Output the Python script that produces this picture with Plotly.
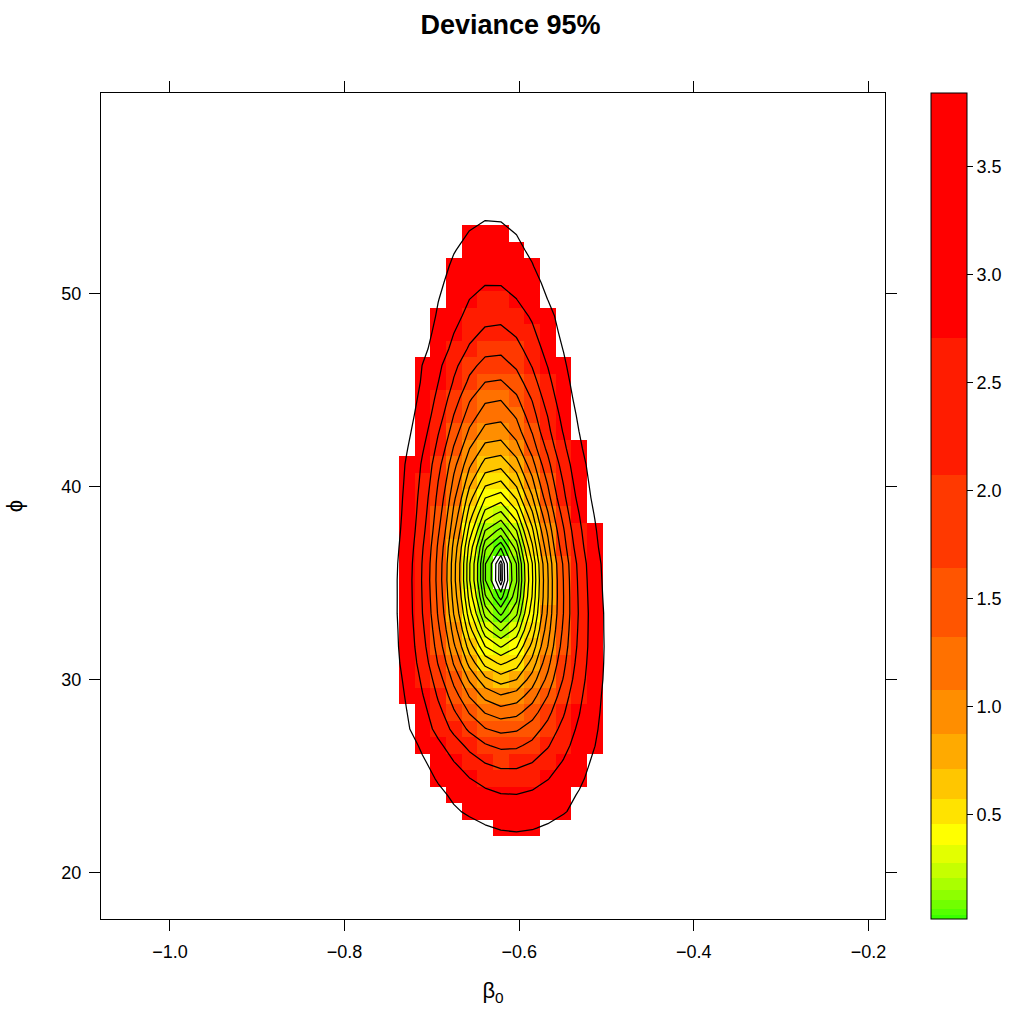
import numpy as np
import plotly.graph_objects as go

# ---- grid axes (cell centres of the deviance grid) ----
beta0_grid = np.linspace(-1.07, -0.19, 50)
phi_grid = np.linspace(18, 60, 50)

# ---- per-row deviance profile ----
# minimum deviance along each phi row
row_min_dev = [6.51, 5.89, 5.31, 4.75, 4.22, 3.727, 3.263, 2.829, 2.427, 2.055,
               1.714, 1.404, 1.125, 0.877, 0.659, 0.473, 0.318, 0.193, 0.099, 0.036,
               0.001, 0.002, 0.048, 0.131, 0.234, 0.354, 0.484, 0.624, 0.776, 0.931,
               1.080, 1.241, 1.444, 1.648, 1.864, 2.094, 2.332, 2.576, 2.831, 3.080,
               3.338, 3.608, 3.889, 4.18, 4.48, 4.79, 5.11, 5.43, 5.76, 6.10]
# beta0 where each row reaches its minimum
row_center_beta0 = [-0.605, -0.605, -0.605, -0.605, -0.605,
                    -0.604, -0.606, -0.6087, -0.6108, -0.6127,
                    -0.6145, -0.6175, -0.6178, -0.6185, -0.6190,
                    -0.6200, -0.6205, -0.6210, -0.6215, -0.6220,
                    -0.6225, -0.6227, -0.6235, -0.6238, -0.6246,
                    -0.6257, -0.6263, -0.6270, -0.62755, -0.6278,
                    -0.6275, -0.6276, -0.6275, -0.6284, -0.6275,
                    -0.6275, -0.6275, -0.62975, -0.6305, -0.6320,
                    -0.6325, -0.6320, -0.632, -0.632, -0.632,
                    -0.632, -0.632, -0.632, -0.632, -0.632]
# beta0 distance giving one unit of deviance in each row
row_scale_beta0 = [0.065, 0.065, 0.065, 0.065, 0.065,
                   0.075, 0.0803, 0.0736, 0.0723, 0.0704,
                   0.0696, 0.0692, 0.0671, 0.0656, 0.0646,
                   0.0638, 0.0629, 0.0619, 0.0613, 0.0605,
                   0.0600, 0.0596, 0.0588, 0.0584, 0.0581,
                   0.0579, 0.0579, 0.0580, 0.0572, 0.0565,
                   0.0560, 0.0555, 0.0555, 0.0560, 0.0551,
                   0.0552, 0.0558, 0.0554, 0.0562, 0.0562,
                   0.0565, 0.0576, 0.058, 0.058, 0.058,
                   0.058, 0.058, 0.058, 0.058, 0.058]

# ---- colour key breaks (chi-square(1) quantiles, 0.10 ... 0.95) ----
color_breaks = [0.01579, 0.03577, 0.06418, 0.10153, 0.14847, 0.20590, 0.27500, 0.35732,
                0.45494, 0.57065, 0.70833, 0.87346, 1.07419, 1.32330, 1.64237, 2.07225,
                2.70554, 3.84146]
band_colors = ["#39FF00", "#55FF00", "#71FF00", "#8EFF00", "#AAFF00", "#C6FF00", "#E3FF00",
               "#FFFF00", "#FFE300", "#FFC600", "#FFAA00", "#FF8E00", "#FF7100", "#FF5500",
               "#FF3900", "#FF1C00", "#FF0000"]
colorbar_ticks = [0.5, 1.0, 1.5, 2.0, 2.5, 3.0, 3.5]
colorbar_ticktext = ["0.5", "1.0", "1.5", "2.0", "2.5", "3.0", "3.5"]

# ---- contour levels ----
contour_levels = [0.00293, 0.01175, 0.0266, 0.0476, 0.0751, 0.1094, 0.1509, 0.2003, 0.2583,
                  0.3258, 0.404, 0.4942, 0.6006, 0.7225, 0.865, 1.034, 1.237, 1.486, 1.801,
                  2.220, 2.819, 3.841]

x_ticks = [-1.0, -0.8, -0.6, -0.4, -0.2]
x_ticktext = ["\u22121.0", "\u22120.8", "\u22120.6", "\u22120.4", "\u22120.2"]
y_ticks = [20, 30, 40, 50]
y_ticktext = ["20", "30", "40", "50"]

# ---- build the deviance grid ----
m = np.array(row_min_dev)[:, None]
c = np.array(row_center_beta0)[:, None]
s = np.array(row_scale_beta0)[:, None]
dev = m + ((beta0_grid[None, :] - c) / s) ** 2

zmin, zmax = color_breaks[0], color_breaks[-1]
dev_shown = np.where((dev >= zmin) & (dev <= zmax), dev, np.nan)
z_heat = [[(None if np.isnan(v) else float(v)) for v in row] for row in dev_shown]

colorscale = []
for i, col in enumerate(band_colors):
    lo = (color_breaks[i] - zmin) / (zmax - zmin)
    hi = (color_breaks[i + 1] - zmin) / (zmax - zmin)
    colorscale.append([lo, col])
    colorscale.append([hi, col])
colorscale[-1][0] = 1.0

dx = (beta0_grid[1] - beta0_grid[0]) / 2
dy = (phi_grid[1] - phi_grid[0]) / 2

fig = go.Figure()
fig.add_trace(go.Heatmap(
    x=beta0_grid, y=phi_grid, z=z_heat, zmin=zmin, zmax=zmax,
    colorscale=colorscale, hoverinfo="skip",
    colorbar=dict(
        x=(931 - 101) / 784, xanchor="left", xpad=0, ypad=0,
        y=0.5, yanchor="middle", len=826, lenmode="pixels",
        thickness=36, thicknessmode="pixels",
        outlinecolor="black", outlinewidth=1,
        ticks="outside", ticklen=6, tickcolor="black", tickwidth=1,
        tickvals=colorbar_ticks, ticktext=colorbar_ticktext,
        tickfont=dict(size=18, color="black"),
    ),
))

zlist = dev.tolist()
for lev in contour_levels:
    fig.add_trace(go.Contour(
        x=beta0_grid, y=phi_grid, z=zlist,
        autocontour=False,
        contours=dict(start=lev, end=lev, size=1, coloring="none", showlabels=False),
        line=dict(color="black", width=1.25, smoothing=0),
        showscale=False, hoverinfo="skip", showlegend=False,
    ))

fig.update_layout(
    width=1021, height=1014,
    margin=dict(l=101, r=136, t=93, b=95, autoexpand=False),
    paper_bgcolor="white", plot_bgcolor="white",
    font=dict(family="Liberation Sans, Arial, Helvetica, sans-serif", size=18, color="black"),
    title=dict(text="<b>Deviance 95%</b>", x=0.5, xref="container", xanchor="center",
               y=1 - 25 / 1014, yref="container", yanchor="middle",
               font=dict(size=27, color="black")),
    hovermode=False,
    showlegend=False,
)
fig.update_xaxes(
    range=[beta0_grid[0] - dx, beta0_grid[-1] + dx],
    tickvals=x_ticks, ticktext=x_ticktext,
    ticks="outside", ticklen=11, tickwidth=1, tickcolor="black",
    ticklabelstandoff=5,
    showline=True, linecolor="black", linewidth=1, mirror="ticks",
    showgrid=False, zeroline=False,
    title=dict(text="\u03b2<sub>0</sub>", font=dict(size=22), standoff=22),
)
fig.update_yaxes(
    range=[phi_grid[0] - dy, phi_grid[-1] + dy],
    tickvals=y_ticks, ticktext=y_ticktext,
    ticks="outside", ticklen=11, tickwidth=1, tickcolor="black",
    ticklabelstandoff=4,
    showline=True, linecolor="black", linewidth=1, mirror="ticks",
    showgrid=False, zeroline=False,
    title=dict(text="\u03d5", font=dict(size=22), standoff=32),
)

fig.write_html("out.html", config={"displayModeBar": False},
               post_script="document.body.style.margin='0';")
